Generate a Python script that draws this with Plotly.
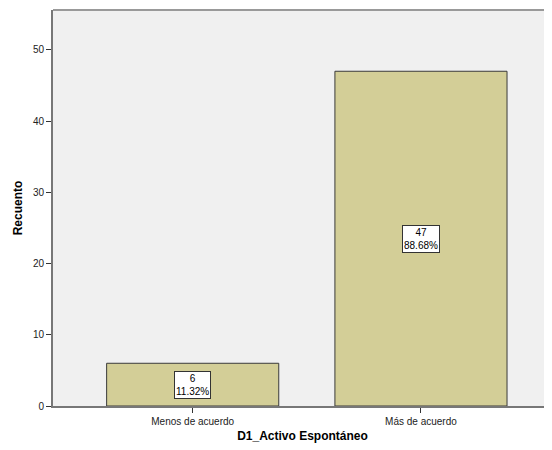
import plotly.graph_objects as go

categories = ["Menos de acuerdo", "Más de acuerdo"]
counts = [6, 47]
y_ticks = [0, 10, 20, 30, 40, 50]

total = sum(counts)
percents = [c / total * 100 for c in counts]

FONT = "Liberation Sans, Arial, sans-serif"

fig = go.Figure()
fig.add_trace(go.Bar(
    x=[0, 1], y=counts,
    width=0.754,
    marker=dict(color="#D3CE97", line=dict(color="#3a3a3a", width=1)),
    hoverinfo="skip",
))

for i, (c, p) in enumerate(zip(counts, percents)):
    fig.add_annotation(
        x=i, y=c / 2, xref="x", yref="y",
        text=f"{c}<br>{p:.2f}%",
        showarrow=False,
        font=dict(family=FONT, size=10, color="black"),
        bgcolor="white", bordercolor="#333333", borderwidth=1, borderpad=1,
        align="center",
    )

fig.update_layout(
    width=544, height=442,
    margin=dict(l=45, r=0, t=2, b=44),
    paper_bgcolor="white",
    plot_bgcolor="#F0F0F0",
    showlegend=False,
    font=dict(family=FONT, size=10, color="#222222"),
    xaxis=dict(
        range=[-0.612, 1.574],
        tickvals=[0, 1], ticktext=categories,
        ticks="outside", ticklen=5, tickcolor="#333333", tickwidth=1,
        showline=True, linecolor="#777777", linewidth=2,
        showgrid=False, zeroline=False,
        tickfont=dict(family=FONT, size=10, color="#222222"),
        title=dict(text="<b>D1_Activo Espontáneo</b>", standoff=6,
                   font=dict(family=FONT, size=12, color="black")),
    ),
    yaxis=dict(
        range=[0, 55.6],
        tickvals=y_ticks,
        ticks="outside", ticklen=5, tickcolor="#333333", tickwidth=1,
        showline=True, linecolor="#777777", linewidth=2,
        showgrid=False, zeroline=False,
        tickfont=dict(family=FONT, size=10, color="#222222"),
        title=dict(text="<b>Recuento</b>", standoff=8,
                   font=dict(family=FONT, size=12, color="black")),
    ),
)

fig.add_shape(type="line", xref="paper", yref="paper", x0=0, x1=1, y0=1, y1=1,
              line=dict(color="#999999", width=2))

fig.write_html("out.html")
